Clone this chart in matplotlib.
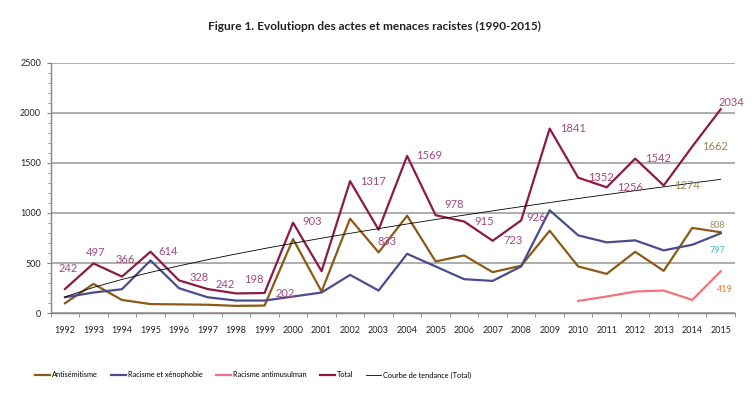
import numpy as np
import matplotlib
matplotlib.use("Agg")
import matplotlib.pyplot as plt
from matplotlib.ticker import MultipleLocator

plt.rcParams['font.family'] = ['Lato', 'DejaVu Sans']

years = list(range(1992, 2016))
antisemitisme = [100, 293, 133, 92, 89, 85, 74, 77, 740, 217, 943, 607, 973, 517, 577,
                 410, 474, 823, 467, 393, 613, 423, 851, 808]
racisme_xeno = [160, 207, 240, 527, 250, 160, 127, 127, 167, 207, 383, 227, 593, 467, 340,
                323, 467, 1027, 777, 707, 727, 627, 683, 797]
antimusulman_years = [2010, 2011, 2012, 2013, 2014, 2015]
antimusulman = [123, 167, 217, 227, 133, 419]
total = [242, 497, 366, 614, 328, 242, 198, 202, 903, 420, 1317, 833, 1569, 978, 915,
         723, 926, 1841, 1352, 1256, 1542, 1274, 1662, 2034]

# labels shown on Total (None = no label)
total_labels = [242, 497, 366, 614, 328, 242, 198, 202, 903, None, 1317, 833, 1569, 978,
                915, 723, 926, 1841, 1352, 1256, 1542, 1274, 1662, 2034]
# label offsets in pixels (dx, dy)
total_offsets = [(3, 21), (2, 11), (3, 17), (18, 0), (20, 3), (18, 5), (18, 14), (21, 0),
                 (19, 1), None, (23, 0), (8, -12), (22, 0), (19, 11), (20, 0), (20, 0),
                 (15, 3), (23, 0), (23, 0), (23, 0), (23, 0), (23, 0), (23, 0), (11, 7)]
total_label_colors = ['#a4497b'] * 21 + ['#9a8752', '#9a8752', '#a4497b']

c_anti = '#8b5a16'
c_xeno = '#4a4c8e'
c_musul = '#f2727e'
c_total = '#8c1a44'

x = np.arange(len(years))
xm = np.array([years.index(y) for y in antimusulman_years])

# power trendline of Total (like Excel)
xi = x + 1
p = np.polyfit(np.log(xi), np.log(total), 1)
trend = np.exp(p[1]) * xi ** p[0]

fig = plt.figure(figsize=(7.54, 3.95), dpi=100)
ax = fig.add_axes([50.7 / 754, 1 - 313.3 / 395, (735 - 50.7) / 754, (313.3 - 62.5) / 395])

ax.plot(x, antisemitisme, color=c_anti, lw=1.6, label='Antisémitisme', zorder=3)
ax.plot(x, racisme_xeno, color=c_xeno, lw=1.6, label='Racisme et xénophobie', zorder=3)
ax.plot(xm, antimusulman, color=c_musul, lw=1.6, label='Racisme antimusulman', zorder=3)
ax.plot(x, total, color=c_total, lw=1.6, label='Total', zorder=4)
ax.plot(x, trend, color='black', lw=0.6, label='Courbe de tendance (Total)', zorder=5)

for i, v in enumerate(total_labels):
    if v is None:
        continue
    ax.annotate(str(v), (x[i], total[i]), xytext=total_offsets[i], textcoords='offset pixels',
                ha='center', va='center', fontsize=8, color=total_label_colors[i], zorder=6)

ax.annotate('808', (x[-1], antisemitisme[-1]), xytext=(-3, 7), textcoords='offset pixels',
            ha='center', va='center', fontsize=6.5, color='#a39063')
ax.annotate('797', (x[-1], racisme_xeno[-1]), xytext=(-3, -17), textcoords='offset pixels',
            ha='center', va='center', fontsize=6.5, color='#3fc0c4')
ax.annotate('419', (x[-1], antimusulman[-1]), xytext=(4, -18), textcoords='offset pixels',
            ha='center', va='center', fontsize=6.5, color='#e8822e')

ax.set_xlim(-0.5, len(years) - 0.5)
ax.set_ylim(0, 2500)
ax.set_xticks(x)
ax.set_xticklabels([str(y) for y in years], fontsize=6.5, color='#222222')
ax.set_xticks(np.arange(-0.5, len(years)), minor=True)
ax.tick_params(axis='x', which='major', length=0, pad=9)
ax.tick_params(axis='x', which='minor', length=3, color='#868686', direction='out')
ax.yaxis.set_major_locator(MultipleLocator(500))
ax.yaxis.set_minor_locator(MultipleLocator(100))
ax.tick_params(axis='y', which='major', length=3, color='#868686', labelsize=6.5,
               labelcolor='#222222', pad=4)
ax.tick_params(axis='y', which='minor', length=2, color='#868686')
ax.grid(axis='y', which='major', color='#a0a0a0', lw=1.2)
ax.set_axisbelow(True)
for s in ['top', 'right']:
    ax.spines[s].set_visible(False)
for s in ['left', 'bottom']:
    ax.spines[s].set_color('#868686')
    ax.spines[s].set_linewidth(1)

fig.text(0.497, 1 - 26.7 / 395, 'Figure 1. Evolutiopn des actes et menaces racistes (1990-2015)',
         ha='center', va='center', fontsize=8.6, fontweight='bold', color='#222222')

fig.legend(loc='center left', bbox_to_anchor=(35 / 754, 1 - 375 / 395), ncol=5,
           frameon=False, fontsize=5.3, handlelength=2.0, handletextpad=0.3,
           columnspacing=1.8, borderpad=0, borderaxespad=0)

fig.savefig('out.png', dpi=100, facecolor='white')
